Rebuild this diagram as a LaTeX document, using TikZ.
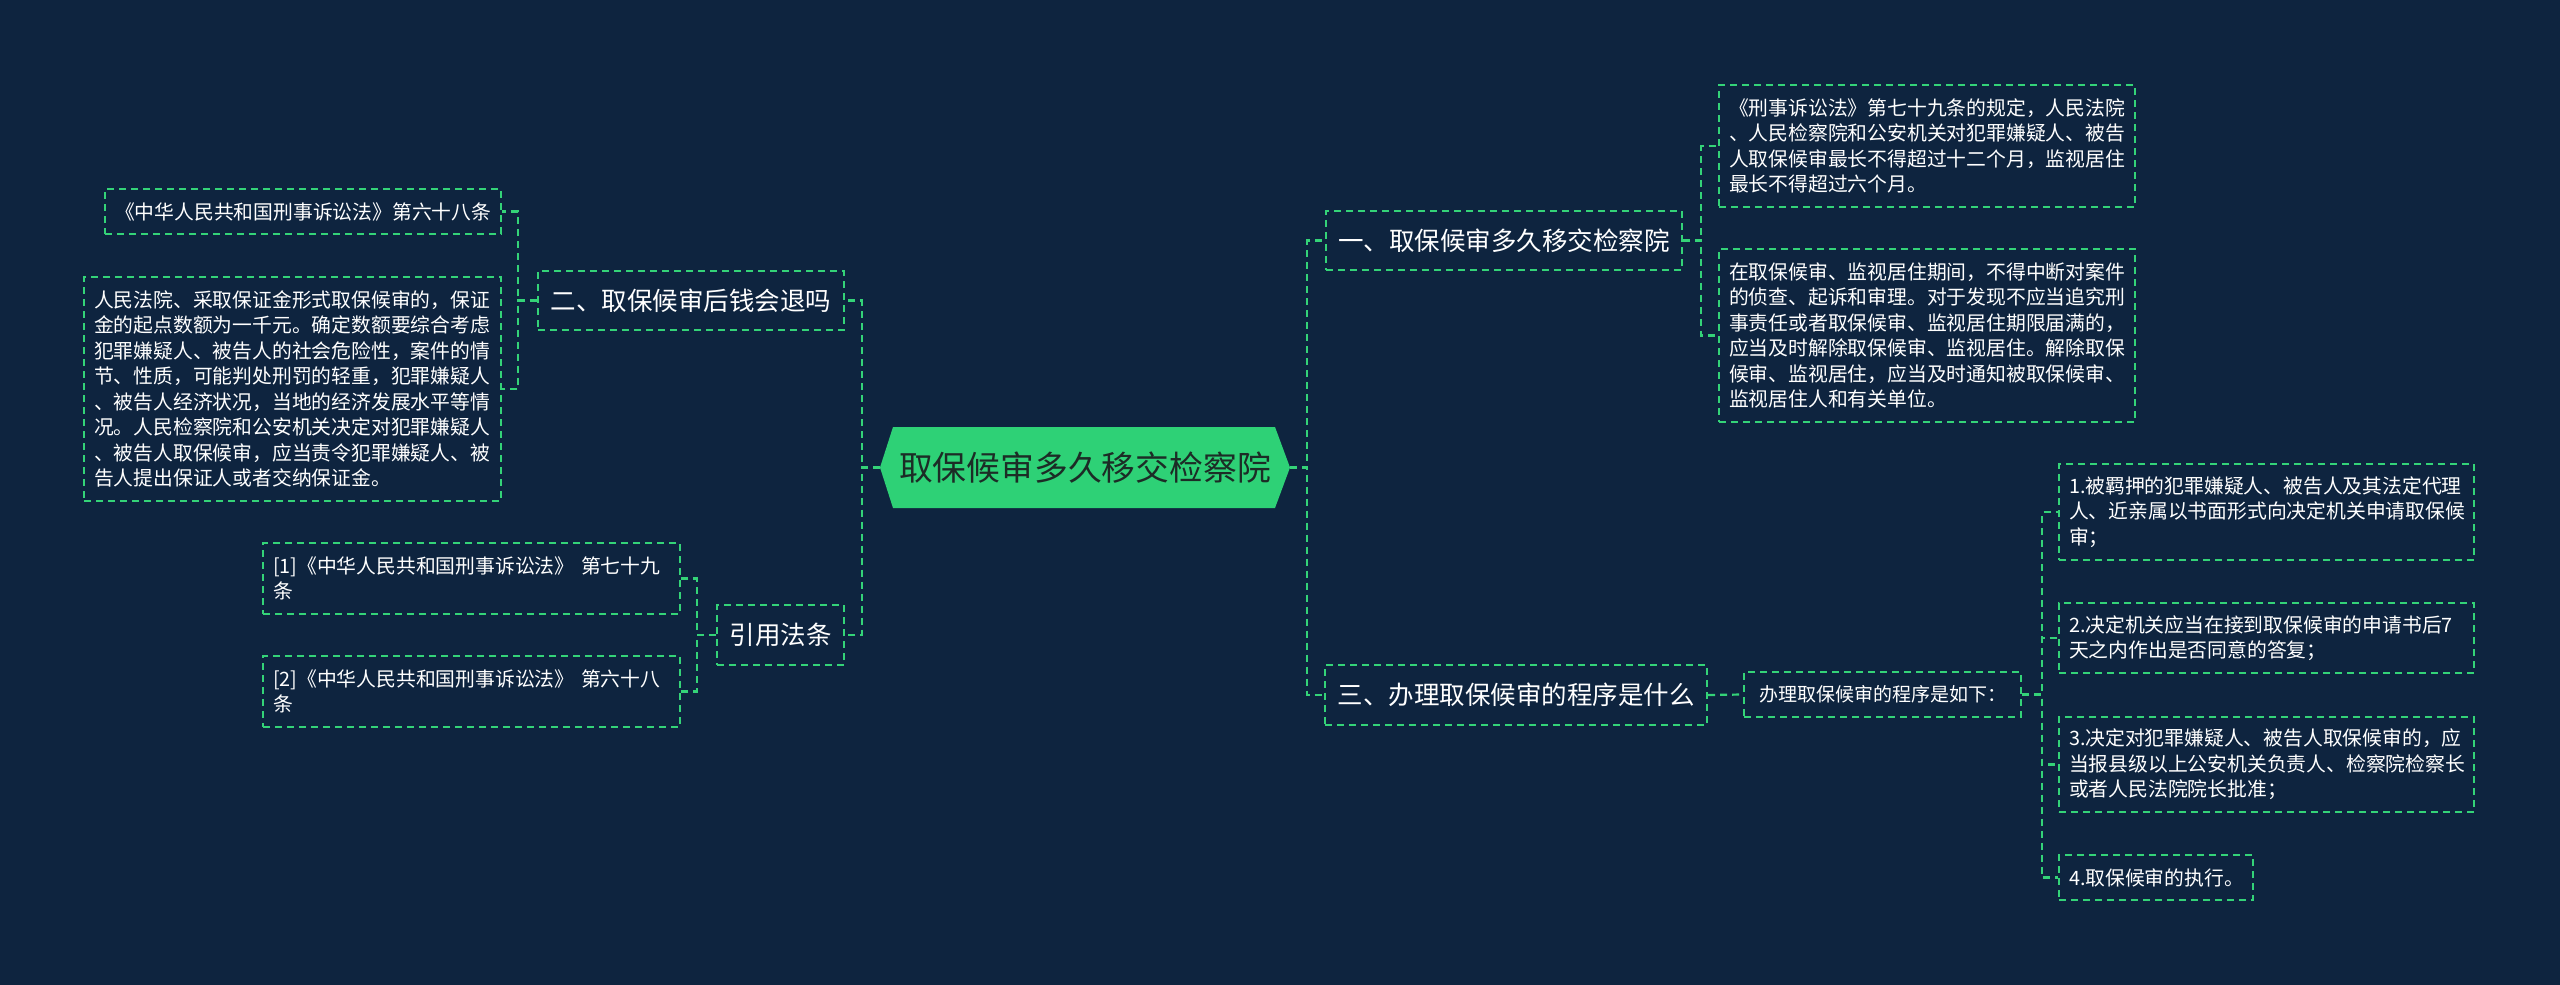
\documentclass[tikz,border=0pt]{standalone}
\usepackage{fontspec}
\newfontfamily\cjk{Noto Sans CJK SC}
\usetikzlibrary{calc}
\definecolor{bgc}{RGB}{14,36,63}
\definecolor{lg}{RGB}{52,211,120}
\definecolor{cfill}{RGB}{46,209,118}
\definecolor{ctext}{RGB}{28,44,38}
\tikzset{
  dashy/.style={line width=2.2pt, dash pattern=on 7pt off 5pt},
  box/.style={draw=lg, dashy, text=white, font=\cjk\fontsize{19.8}{25.5}\selectfont,
    align=left, inner xsep=10pt, inner ysep=0pt},
  sbox/.style={draw=lg, dashy, text=white, font=\cjk\fontsize{19}{24}\selectfont,
    inner sep=0pt},
  big/.style={draw=lg, dashy, text=white, font=\cjk\fontsize{25.5}{30}\selectfont,
    inner sep=0pt},
  conn/.style={draw=lg, dashy}
}
\begin{document}
\begin{tikzpicture}[x=1pt,y=-1pt]
\useasboundingbox (0,0) rectangle (2560,985);
\fill[bgc] (0,0) rectangle (2560,985);

% centre
\node[minimum width=410, minimum height=81, inner sep=0pt, text=ctext,
  font=\cjk\fontsize{33.8}{40}\selectfont,
  path picture={\fill[cfill] (path picture bounding box.west)
     -- ($(path picture bounding box.north west)+(13,0)$)
     -- ($(path picture bounding box.north east)+(-15,0)$)
     -- (path picture bounding box.east)
     -- ($(path picture bounding box.south east)+(-15,0)$)
     -- ($(path picture bounding box.south west)+(13,0)$) -- cycle;}]
  (ctr) at (1085,467.5) {取保候审多久移交检察院};

% left branch
\node[big, minimum width=306, minimum height=59] (n2) at (691,300.5) {二、取保候审后钱会退吗};
\node[box, text width=376, minimum width=396, minimum height=45] (a) at (303,211.5)
  {《中华人民共和国刑事诉讼法》第六十八条};
\node[box, text width=397, minimum width=417, minimum height=224] (b) at (292.5,389)
  {人民法院、采取保证金形式取保候审的，保证\\
   金的起点数额为一千元。确定数额要综合考虑\\
   犯罪嫌疑人、被告人的社会危险性，案件的情\\
   节、性质，可能判处刑罚的轻重，犯罪嫌疑人\\
   、被告人经济状况，当地的经济发展水平等情\\
   况。人民检察院和公安机关决定对犯罪嫌疑人\\
   、被告人取保候审，应当责令犯罪嫌疑人、被\\
   告人提出保证人或者交纳保证金。};
\node[big, minimum width=127, minimum height=60] (n4) at (780.5,635) {引用法条};
\node[box, text width=397, minimum width=417, minimum height=71] (r1) at (471.5,578.5)
  {[1]《中华人民共和国刑事诉讼法》 第七十九\\条};
\node[box, text width=397, minimum width=417, minimum height=71] (r2) at (471.5,691.5)
  {[2]《中华人民共和国刑事诉讼法》 第六十八\\条};

% right branch
\node[big, minimum width=356, minimum height=59] (n1) at (1504,240.5) {一、取保候审多久移交检察院};
\node[box, text width=396, minimum width=416, minimum height=122] (c) at (1927,146)
  {《刑事诉讼法》第七十九条的规定，人民法院\\
   、人民检察院和公安机关对犯罪嫌疑人、被告\\
   人取保候审最长不得超过十二个月，监视居住\\
   最长不得超过六个月。};
\node[box, text width=396, minimum width=416, minimum height=173] (d) at (1927,335.5)
  {在取保候审、监视居住期间，不得中断对案件\\
   的侦查、起诉和审理。对于发现不应当追究刑\\
   事责任或者取保候审、监视居住期限届满的，\\
   应当及时解除取保候审、监视居住。解除取保\\
   候审、监视居住，应当及时通知被取保候审、\\
   监视居住人和有关单位。};
\node[big, minimum width=382, minimum height=60] (n3) at (1516,695) {三、办理取保候审的程序是什么};
\node[sbox, minimum width=277, minimum height=45] (p) at (1882.5,694.5) {办理取保候审的程序是如下：};
\node[box, text width=395, minimum width=415, minimum height=96] (s1) at (2266.5,512)
  {1.被羁押的犯罪嫌疑人、被告人及其法定代理\\
   人、近亲属以书面形式向决定机关申请取保候\\
   审；};
\node[box, text width=395, minimum width=415, minimum height=70] (s2) at (2266.5,638)
  {2.决定机关应当在接到取保候审的申请书后7\\
   天之内作出是否同意的答复；};
\node[box, text width=395, minimum width=415, minimum height=95] (s3) at (2266.5,764.5)
  {3.决定对犯罪嫌疑人、被告人取保候审的，应\\
   当报县级以上公安机关负责人、检察院检察长\\
   或者人民法院院长批准；};
\node[box, text width=174, minimum width=194, minimum height=45] (s4) at (2156,877.5)
  {4.取保候审的执行。};

% connectors
\draw[conn] (ctr.west) -- ++(-18,0) |- (n2.east);
\draw[conn] (ctr.west) -- ++(-18,0) |- (n4.east);
\draw[conn] (n2.west) -- ++(-19,0) |- (a.east);
\draw[conn] (n2.west) -- ++(-19,0) |- (b.east);
\draw[conn] (n4.west) -- ++(-19,0) |- (r1.east);
\draw[conn] (n4.west) -- ++(-19,0) |- (r2.east);
\draw[conn] (ctr.east) -- ++(17,0) |- (n1.west);
\draw[conn] (ctr.east) -- ++(17,0) |- (n3.west);
\draw[conn] (n1.east) -- ++(18,0) |- (c.west);
\draw[conn] (n1.east) -- ++(18,0) |- (d.west);
\draw[conn] (n3.east) -- (p.west);
\draw[conn] (p.east) -- ++(20,0) |- (s1.west);
\draw[conn] (p.east) -- ++(20,0) |- (s2.west);
\draw[conn] (p.east) -- ++(20,0) |- (s3.west);
\draw[conn] (p.east) -- ++(20,0) |- (s4.west);
\end{tikzpicture}
\end{document}
